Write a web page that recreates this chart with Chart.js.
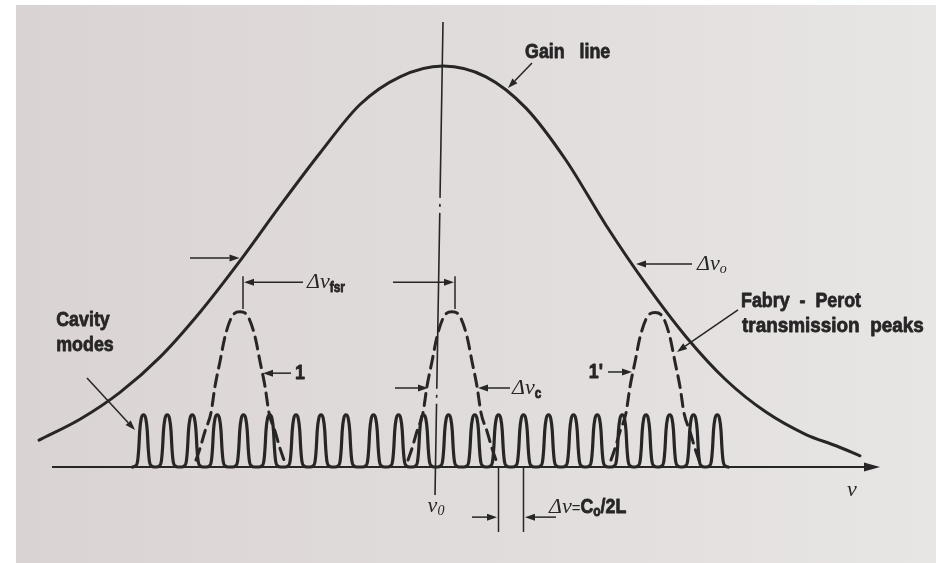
<!DOCTYPE html>
<html>
<head>
<meta charset="utf-8">
<script src="https://cdn.jsdelivr.net/npm/chart.js@4.4.1/dist/chart.umd.min.js"></script>
<style>
  html, body { margin: 0; padding: 0; background: #ffffff; }
  canvas { display: block; }
</style>
</head>
<body>
<canvas id="c" width="936" height="563"></canvas>
<script>
// Frequency axis is measured from the line centre v0 in units of the cavity
// mode spacing (c/2L); levels are relative to the peak of the gain line.

// Gain line (level vs frequency)
const gainFreq  = [-15.88, -14.24, -12.64, -11.04, -9.44, -7.84, -6.24, -4.64, -3.04, -1.44, 0.28,
                    2.0, 3.6, 5.2, 6.8, 8.4, 10.0, 11.6, 13.2, 14.8, 16.0, 16.96];
const gainLevel = [0.067, 0.119, 0.186, 0.274, 0.386, 0.514, 0.651, 0.783, 0.904, 0.973, 1.0,
                   0.973, 0.895, 0.765, 0.603, 0.456, 0.325, 0.217, 0.137, 0.081, 0.053, 0.028];

// Cavity longitudinal modes
const modeFreq  = [-11.7, -10.75, -9.75, -8.75, -7.7, -6.65, -5.6, -4.6, -3.6, -2.5, -1.5, -0.5,
                    0.5, 1.55, 2.5, 3.5, 4.5, 5.5, 6.45, 7.45, 8.4, 9.35, 10.3, 11.25];
const modeLevel = 0.13;
const modeShapeOffset = [-0.44, -0.32, -0.24, -0.19, -0.15, -0.09, 0, 0.09, 0.15, 0.19, 0.24, 0.32, 0.44];
const modeShapeLevel  = [0, 0.02, 0.1, 0.35, 0.7, 0.93, 1, 0.93, 0.7, 0.35, 0.1, 0.02, 0];

// Fabry-Perot etalon transmission peaks
const fpFreq  = [-7.84, 0.64, 8.76];
const fpLevel = [0.387, 0.387, 0.385];
const fpShapeOffset = [-1.76, -1.6, -1.4, -1.16, -1.0, -0.8, -0.6, -0.32, 0, 0.32, 0.6, 0.8, 1.0, 1.16, 1.4, 1.6, 1.76];
const fpShapeLevel  = [0.045, 0.12, 0.23, 0.35, 0.52, 0.68, 0.84, 0.97, 1, 0.97, 0.84, 0.68, 0.52, 0.35, 0.23, 0.12, 0.045];

const INK = '#272525';
const SANS = "'Liberation Sans','Arimo','DejaVu Sans',sans-serif";
const SERIF = "'Liberation Serif','DejaVu Serif',serif";
const NARROW = 0.85;   // horizontal squeeze for the condensed bold lettering
const F = {
  label: 'bold 21px ' + SANS,
  greek: 'italic 22px ' + SERIF,
  sub:   'bold 14px ' + SANS,
  subI:  'italic 14px ' + SERIF,
  eq:    '15px ' + SANS
};
const HEAVY = new Set([F.label, F.sub]);   // lettering drawn with a slight outline

function peakPoints(centre, peak, offsets, levels) {
  return offsets.map((o, i) => ({ x: centre + o, y: peak * levels[i] }));
}

const gainPoints = gainFreq.map((f, i) => ({ x: f, y: gainLevel[i] }));
const modePoints = modeFreq.flatMap(c => peakPoints(c, modeLevel, modeShapeOffset, modeShapeLevel));

const datasets = [
  { data: gainPoints, borderColor: INK, borderWidth: 3, cubicInterpolationMode: 'monotone', fill: false },
  { data: modePoints, borderColor: INK, borderWidth: 3.2, cubicInterpolationMode: 'monotone', fill: false }
];
fpFreq.forEach((c, k) => {
  datasets.push({
    data: peakPoints(c, fpLevel[k], fpShapeOffset, fpShapeLevel),
    borderColor: INK, borderWidth: 3, borderDash: [12, 7],
    cubicInterpolationMode: 'monotone', fill: false
  });
});

// Annotations in data coordinates: [frequency, level]
const notes = {
  axis: { from: [-15.36, 0], to: [17.76, 0] },
  centreLine: { from: [0.28, 1.11], to: [-0.04, -0.07] },
  plainLines: [
    { from: [-7.72, 0.476], to: [-7.72, 0.394] },     // fsr tick left
    { from: [0.76, 0.476], to: [0.76, 0.394] },       // fsr tick right
    { from: [2.5, 0], to: [2.5, -0.162] },            // mode spacing extension
    { from: [3.5, 0], to: [3.5, -0.162] }
  ],
  arrows: [
    { from: [3.84, 1.0075], to: [2.88, 0.945] },      // gain line pointer
    { from: [-13.96, 0.222], to: [-12.04, 0.092] },   // cavity modes pointer
    { from: [12.08, 0.392], to: [9.64, 0.287] },      // Fabry-Perot pointer
    { from: [10.24, 0.506], to: [8.0, 0.506] },       // delta nu_0 right
    { from: [-9.84, 0.521], to: [-7.86, 0.521] },     // delta nu_0 left
    { from: [-5.32, 0.461], to: [-7.68, 0.461] },     // fsr left
    { from: [-1.72, 0.461], to: [0.72, 0.461] },      // fsr right
    { from: [-5.8, 0.234], to: [-6.92, 0.234] },      // "1"
    { from: [6.88, 0.237], to: [7.84, 0.237] },       // "1'"
    { from: [-1.64, 0.197], to: [-0.32, 0.197] },     // delta nu_c left
    { from: [2.96, 0.197], to: [1.68, 0.197] },       // delta nu_c right
    { from: [1.44, -0.125], to: [2.44, -0.125] },     // spacing left
    { from: [4.8, -0.125], to: [3.56, -0.125] }       // spacing right
  ],
  texts: [
    { at: [3.56, 1.035], align: 'left', runs: [['Gain', F.label, 0, NARROW], ['   line', F.label, 0, NARROW]] },
    { at: [-14.12, 0.367], align: 'center', runs: [['Cavity', F.label, 0, NARROW]] },
    { at: [-14.04, 0.304], align: 'center', runs: [['modes', F.label, 0, NARROW]] },
    { at: [12.2, 0.414], align: 'left', runs: [['Fabry  -  Perot', F.label, 0, NARROW]] },
    { at: [12.24, 0.352], align: 'left', runs: [['transmission  peaks', F.label, 0, 0.9]] },
    { at: [10.44, 0.506], align: 'left', runs: [['\u0394\u03BD', F.greek], ['o', F.subI, 5]] },
    { at: [-5.16, 0.461], align: 'left', runs: [['\u0394\u03BD', F.greek], ['fsr', F.sub, 6, NARROW]] },
    { at: [-5.64, 0.234], align: 'left', runs: [['1', F.label, 0, NARROW]] },
    { at: [6.68, 0.237], align: 'right', runs: [["1'", F.label, 0, NARROW]] },
    { at: [3.04, 0.197], align: 'left', runs: [['\u0394\u03BD', F.greek], ['c', F.sub, 6, NARROW]] },
    { at: [4.52, -0.1], align: 'left', runs: [['\u0394\u03BD', F.greek], ['=', F.eq, 2], ['C', F.label, 0, NARROW], ['o', F.sub, 5, NARROW], ['/2L', F.label, 0, NARROW]] },
    { at: [0.0, -0.097], align: 'center', runs: [['\u03BD', F.greek], ['0', F.subI, 5]] },
    { at: [16.64, -0.057], align: 'center', runs: [['\u03BD', F.greek]] }
  ]
};

function px(chart, p) {
  return [chart.scales.x.getPixelForValue(p[0]), chart.scales.y.getPixelForValue(p[1])];
}

function drawArrow(ctx, a, b, len, half) {
  const ang = Math.atan2(b[1] - a[1], b[0] - a[0]);
  const bx = b[0] - Math.cos(ang) * len, by = b[1] - Math.sin(ang) * len;
  ctx.beginPath();
  ctx.moveTo(a[0], a[1]);
  ctx.lineTo(bx, by);
  ctx.stroke();
  ctx.beginPath();
  ctx.moveTo(b[0], b[1]);
  ctx.lineTo(bx - Math.sin(ang) * half, by + Math.cos(ang) * half);
  ctx.lineTo(bx + Math.sin(ang) * half, by - Math.cos(ang) * half);
  ctx.closePath();
  ctx.fill();
}

function drawRuns(ctx, x, y, runs, align) {
  let total = 0;
  const widths = runs.map(r => {
    ctx.font = r[1];
    const w = ctx.measureText(r[0]).width * (r[3] || 1);
    total += w;
    return w;
  });
  let cx = align === 'center' ? x - total / 2 : align === 'right' ? x - total : x;
  ctx.textAlign = 'left';
  ctx.textBaseline = 'middle';
  ctx.lineJoin = 'round';
  runs.forEach((r, i) => {
    ctx.font = r[1];
    ctx.save();
    ctx.translate(cx, y + (r[2] || 0));
    ctx.scale(r[3] || 1, 1);
    ctx.fillText(r[0], 0, 0);
    if (HEAVY.has(r[1])) {
      ctx.lineWidth = 0.8;
      ctx.strokeText(r[0], 0, 0);
    }
    ctx.restore();
    cx += widths[i];
  });
}

const pagePlugin = {
  id: 'page',
  beforeDraw(chart) {
    const { ctx, width, height } = chart;
    ctx.save();
    ctx.fillStyle = '#ffffff';
    ctx.fillRect(0, 0, width, height);
    const g = ctx.createLinearGradient(16, 0, width, 0);
    g.addColorStop(0, '#dad3d3');
    g.addColorStop(0.5, '#e1dcdc');
    g.addColorStop(1, '#e8e5e5');
    ctx.fillStyle = g;
    ctx.fillRect(16, 5, width - 16, height - 5);
    ctx.restore();
  },
  beforeDatasetsDraw(chart) {
    const ctx = chart.ctx;
    ctx.save();
    ctx.strokeStyle = INK;
    ctx.fillStyle = INK;
    ctx.lineWidth = 2.2;
    drawArrow(ctx, px(chart, notes.axis.from), px(chart, notes.axis.to), 16, 4.5);
    ctx.lineWidth = 1.6;
    ctx.setLineDash([176, 6, 3, 6]);
    const a = px(chart, notes.centreLine.from), b = px(chart, notes.centreLine.to);
    ctx.beginPath(); ctx.moveTo(a[0], a[1]); ctx.lineTo(b[0], b[1]); ctx.stroke();
    ctx.setLineDash([]);
    ctx.restore();
  },
  afterDatasetsDraw(chart) {
    const ctx = chart.ctx;
    ctx.save();
    ctx.strokeStyle = INK;
    ctx.fillStyle = INK;
    ctx.lineWidth = 1.5;
    notes.plainLines.forEach(l => {
      const a = px(chart, l.from), b = px(chart, l.to);
      ctx.beginPath(); ctx.moveTo(a[0], a[1]); ctx.lineTo(b[0], b[1]); ctx.stroke();
    });
    notes.arrows.forEach(l => drawArrow(ctx, px(chart, l.from), px(chart, l.to), 10, 3.5));
    notes.texts.forEach(t => {
      const p = px(chart, t.at);
      drawRuns(ctx, p[0], p[1], t.runs, t.align);
    });
    ctx.restore();
  }
};

new Chart(document.getElementById('c'), {
  type: 'line',
  data: { datasets },
  options: {
    responsive: false,
    animation: false,
    devicePixelRatio: 1,
    layout: { padding: 0 },
    elements: { point: { radius: 0 }, line: { borderCapStyle: 'round', borderJoinStyle: 'round' } },
    plugins: { legend: { display: false }, tooltip: { enabled: false } },
    scales: {
      x: { type: 'linear', display: false, min: -17.44, max: 20 },
      y: { type: 'linear', display: false, min: -0.2394, max: 1.1646 }
    }
  },
  plugins: [pagePlugin]
});
</script>
</body>
</html>
